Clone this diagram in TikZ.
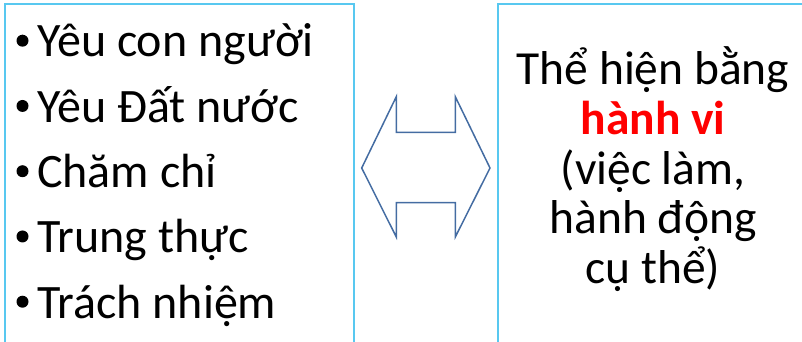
\documentclass[tikz,border=0pt]{standalone}
\usepackage{fontspec}
\setmainfont{Carlito}
\definecolor{frameblue}{RGB}{88,200,240}
\definecolor{arrowblue}{RGB}{68,108,162}
\definecolor{hotred}{RGB}{255,0,0}
\begin{document}
\begin{tikzpicture}[x=1pt,y=-1pt,
  frame/.style={draw=frameblue,line width=2pt},
  item/.style={anchor=base west,inner sep=0pt,font=\fontsize{48}{52}\selectfont},
  dot/.style={circle,fill=black,inner sep=0pt,minimum size=12pt},
  rtext/.style={anchor=base,inner sep=0pt,font=\fontsize{47.5}{52}\selectfont}]
\useasboundingbox (0,0) rectangle (802,342);
\clip (0,0) rectangle (802,342);
% two open frames running off the bottom / right
\draw[frame] (5,350) -- (5,4) -- (354,4) -- (354,350);
\draw[frame] (498,350) -- (498,4) -- (810,4);
% list of qualities
\foreach \t [count=\i] in {Yêu con người,Yêu Đất nước,Chăm chỉ,Trung thực,Trách nhiệm}{
  \node[dot] (b\i) at (22.5,{57+65.25*(\i-1)-16.3}) {};
  \node[item] (l\i) at (37,{57+65.25*(\i-1)}) {\t};
}
% right column
\node[rtext] (r1) at (653,85) {Thể hiện bằng};
\node[rtext,text=hotred,font=\fontsize{47.5}{52}\selectfont\bfseries] (r2) at (653,134.5) {hành vi};
\node[rtext] (r3) at (653,184) {(việc làm,};
\node[rtext] (r4) at (653,233.5) {hành động};
\node[rtext] (r5) at (653,283) {cụ thể)};
% double-headed outline arrow
\draw[arrowblue,line width=1.5pt,line join=miter]
  (361.7,168) -- (396.3,96.7) -- (396.3,132.3) -- (455.3,132.3) -- (455.3,96.7)
  -- (490,168) -- (455.3,237) -- (455.3,202.7) -- (396.3,202.7) -- (396.3,237) -- cycle;
\end{tikzpicture}
\end{document}
